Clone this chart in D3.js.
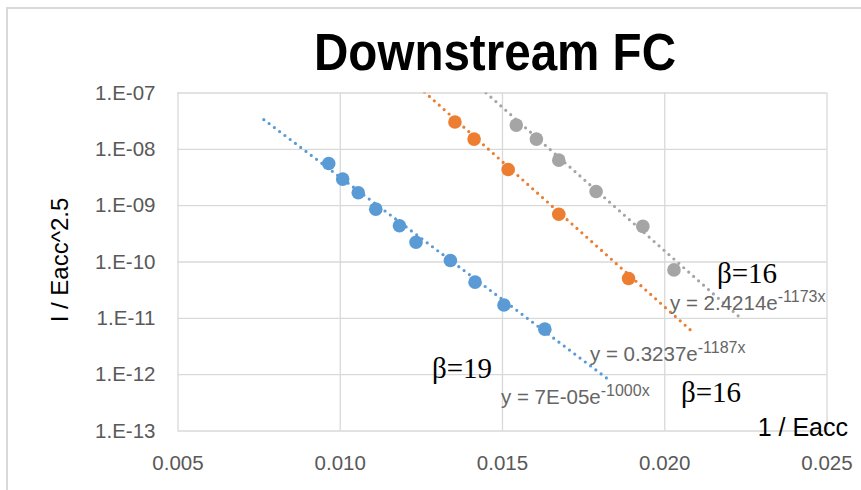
<!DOCTYPE html>
<html>
<head>
<meta charset="utf-8">
<script src="https://cdn.jsdelivr.net/npm/d3@7/dist/d3.min.js"></script>
<style>
  html, body { margin: 0; padding: 0; background: #fff; }
  svg { display: block; }
</style>
</head>
<body>
<svg id="chart" width="861" height="490"></svg>
<script>
// Fowler-Nordheim style plot: I / Eacc^2.5 versus 1 / Eacc

const xTicks = [0.005, 0.010, 0.015, 0.020, 0.025];
const yTicks = [1e-7, 1e-8, 1e-9, 1e-10, 1e-11, 1e-12, 1e-13];
const yTickLabels = ["1.E-07", "1.E-08", "1.E-09", "1.E-10", "1.E-11", "1.E-12", "1.E-13"];

// series 1 (blue)
const blueX = [0.00966, 0.01009, 0.01057, 0.01111, 0.01184, 0.01235, 0.01341, 0.01417, 0.01506, 0.01632];
const blueY = [5.5e-9, 2.9e-9, 1.66e-9, 8.5e-10, 4.3e-10, 2.2e-10, 1.04e-10, 4.3e-11, 1.69e-11, 6.3e-12];
// series 2 (orange)
const orangeX = [0.01355, 0.01414, 0.01519, 0.01675, 0.01890];
const orangeY = [3.0e-8, 1.49e-8, 4.3e-9, 6.9e-10, 5.0e-11];
// series 3 (gray)
const grayX = [0.01544, 0.01606, 0.01675, 0.01790, 0.01934, 0.02030];
const grayY = [2.64e-8, 1.49e-8, 6.3e-9, 1.75e-9, 4.2e-10, 7.1e-11];

// exponential trendlines y = a * e^(b x), as printed on the chart
const trendA = [7e-5, 0.3237, 2.4214];
const trendB = [-1000, -1187, -1173];
const trendForecast = 0.002;   // forward / backward extension of each trendline

const colors = ["#5B9BD5", "#ED7D31", "#A5A5A5"];

const svg = d3.select("#chart");
const W = 861, H = 490;
const plotLeft = 177.5, plotRight = 826.5, plotTop = 92.5, plotBottom = 430.5;

const x = d3.scaleLinear().domain([0.005, 0.025]).range([plotLeft, plotRight]);
const y = d3.scaleLog().domain([1e-13, 1e-7]).range([plotBottom, plotTop]);

// outer chart border
svg.append("rect")
  .attr("x", 7).attr("y", 8).attr("width", W).attr("height", H)
  .attr("fill", "#fff").attr("stroke", "#d9d9d9").attr("stroke-width", 2);

// title
svg.append("text")
  .attr("x", 495).attr("y", 70)
  .attr("text-anchor", "middle")
  .attr("font-family", "Liberation Sans, Arial, sans-serif")
  .attr("font-weight", "bold")
  .attr("font-size", 51)
  .attr("textLength", 362).attr("lengthAdjust", "spacingAndGlyphs")
  .attr("fill", "#000")
  .text("Downstream FC");

svg.append("clipPath").attr("id", "plotClip")
  .append("rect")
  .attr("x", plotLeft).attr("y", plotTop)
  .attr("width", plotRight - plotLeft).attr("height", plotBottom - plotTop);

// gridlines
svg.append("g")
  .attr("transform", `translate(0,${plotBottom})`)
  .call(d3.axisBottom(x).tickValues(xTicks).tickSize(-(plotBottom - plotTop)).tickFormat(""))
  .call(g => g.select(".domain").remove())
  .call(g => g.selectAll("line").attr("stroke", "#d9d9d9").attr("stroke-width", 1.3));

svg.append("g")
  .attr("transform", `translate(${plotLeft},0)`)
  .call(d3.axisLeft(y).tickValues(yTicks).tickSize(-(plotRight - plotLeft)).tickFormat(""))
  .call(g => g.select(".domain").remove())
  .call(g => g.selectAll("line").attr("stroke", "#d9d9d9").attr("stroke-width", 1.3));

// tick labels
const xAxis = svg.append("g")
  .attr("transform", `translate(0,${plotBottom})`)
  .call(d3.axisBottom(x).tickValues(xTicks).tickSize(0).tickPadding(25).tickFormat(d3.format(".3f")));
xAxis.select(".domain").remove();
xAxis.selectAll("text")
  .attr("font-family", "Liberation Sans, Arial, sans-serif")
  .attr("font-size", 20.5)
  .attr("fill", "#595959");

const yAxis = svg.append("g")
  .attr("transform", `translate(${plotLeft},0)`)
  .call(d3.axisLeft(y).tickValues(yTicks).tickSize(0).tickPadding(22)
    .tickFormat((d, i) => yTickLabels[i]));
yAxis.select(".domain").remove();
yAxis.selectAll("text")
  .attr("font-family", "Liberation Sans, Arial, sans-serif")
  .attr("font-size", 20.5)
  .attr("fill", "#595959");

// axis titles
svg.append("text")
  .attr("transform", "translate(68,260) rotate(-90)")
  .attr("text-anchor", "middle")
  .attr("font-family", "Liberation Sans, Arial, sans-serif")
  .attr("font-size", 24)
  .attr("fill", "#000")
  .text("I / Eacc^2.5");

svg.append("text")
  .attr("x", 848).attr("y", 436)
  .attr("text-anchor", "end")
  .attr("font-family", "Liberation Sans, Arial, sans-serif")
  .attr("font-size", 25)
  .attr("fill", "#000")
  .text("1 / Eacc");

// trendlines
const seriesX = [blueX, orangeX, grayX];
const seriesY = [blueY, orangeY, grayY];
const line = d3.line().x(d => x(d[0])).y(d => y(d[1]));

const trendG = svg.append("g").attr("clip-path", "url(#plotClip)");
seriesX.forEach((xs, i) => {
  const x0 = d3.min(xs) - trendForecast, x1 = d3.max(xs) + trendForecast;
  const pts = d3.range(0, 41).map(k => {
    const xv = x0 + (x1 - x0) * k / 40;
    return [xv, trendA[i] * Math.exp(trendB[i] * xv)];
  });
  trendG.append("path")
    .attr("d", line(pts))
    .attr("fill", "none")
    .attr("stroke", colors[i])
    .attr("stroke-width", 3.2)
    .attr("stroke-linecap", "round")
    .attr("stroke-dasharray", "0 6.6");
});

// markers
seriesX.forEach((xs, i) => {
  svg.append("g").selectAll("circle")
    .data(xs.map((v, k) => [v, seriesY[i][k]]))
    .join("circle")
    .attr("cx", d => x(d[0]))
    .attr("cy", d => y(d[1]))
    .attr("r", 6.8)
    .attr("fill", colors[i]);
});

// trendline equations
const eqs = [
  { base: "y = 7E-05e", exp: "-1000x", x: 501, y: 404 },
  { base: "y = 0.3237e", exp: "-1187x", x: 590, y: 361 },
  { base: "y = 2.4214e", exp: "-1173x", x: 670, y: 310 }
];
eqs.forEach(e => {
  const t = svg.append("text")
    .attr("x", e.x).attr("y", e.y)
    .attr("font-family", "Liberation Sans, Arial, sans-serif")
    .attr("font-size", 20.5)
    .attr("fill", "#666");
  t.append("tspan").text(e.base);
  t.append("tspan").attr("dy", -8).attr("font-size", 16).text(e.exp);
});

// field enhancement factors
const betas = [
  { text: "\u03B2=19", x: 432, y: 378 },
  { text: "\u03B2=16", x: 681, y: 402 },
  { text: "\u03B2=16", x: 717, y: 283 }
];
betas.forEach(b => {
  svg.append("text")
    .attr("x", b.x).attr("y", b.y)
    .attr("font-family", "Liberation Serif, Times New Roman, serif")
    .attr("font-size", 29)
    .attr("fill", "#000")
    .text(b.text);
});
</script>
</body>
</html>
